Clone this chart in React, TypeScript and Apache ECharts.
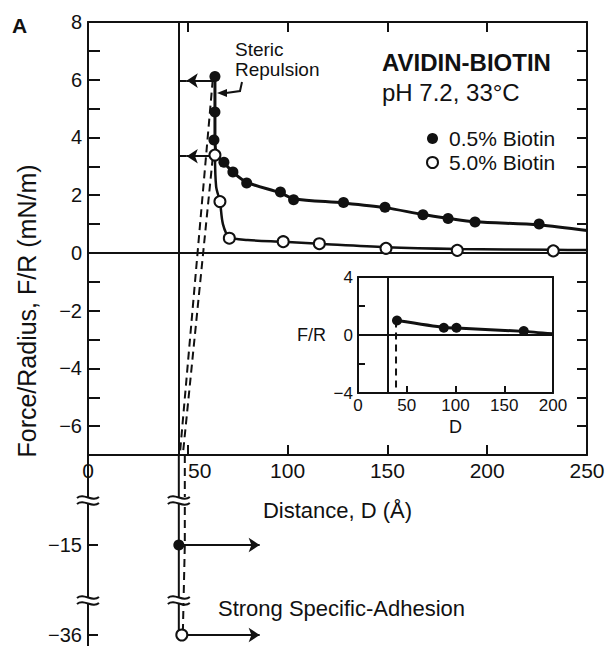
import React, { useEffect, useRef } from 'react';
import * as echarts from 'echarts';

const FONT = '"Liberation Sans", Arial, Helvetica, sans-serif';
const INK = '#111111';

// ---- 0.5% Biotin (filled circles): measured points ----
const lowBiotinD = [63.6, 63.6, 63.1, 68.1, 72.6, 79.5, 96.4, 103, 128, 148.8, 167.8, 180.4, 193.9, 226];
const lowBiotinF = [6.11, 4.88, 3.91, 3.14, 2.8, 2.42, 2.11, 1.84, 1.75, 1.58, 1.32, 1.19, 1.07, 1.0];
// drawn curve through them
const lowFitD = [63.6, 63.6, 64.4, 66.2, 68.1, 72.6, 79.5, 96.4, 103, 128, 148.8, 167.8, 180.4, 193.9, 226, 250];
const lowFitF = [6.11, 3.9, 3.42, 3.24, 3.12, 2.8, 2.45, 2.08, 1.88, 1.73, 1.57, 1.33, 1.2, 1.08, 0.97, 0.78];

// ---- 5.0% Biotin (open circles) ----
const highBiotinD = [63.6, 66.1, 70.8, 97.8, 115.9, 149.3, 185, 233.1];
const highBiotinF = [3.39, 1.78, 0.51, 0.39, 0.32, 0.16, 0.09, 0.07];
const highFitD = [63.6, 64.2, 66.1, 67.6, 70.8, 80, 97.8, 115.9, 149.3, 185, 233.1, 250];
const highFitF = [3.39, 2.3, 1.78, 1.0, 0.55, 0.45, 0.39, 0.32, 0.2, 0.14, 0.11, 0.1];

// ---- jump-out (dashed) paths ----
const jumpLowD = [62.5, 46];
const jumpLowF = [6.0, -7];
const jumpHighD = [62.5, 47.5];
const jumpHighF = [3.3, -7];

// ---- hard wall and "steric repulsion" arrows ----
const wallD = 45.5;
const arrowFromD = 63.6;
const arrowTipD = 49.5;
const arrowF = [5.97, 3.35];

// ---- broken lower axis: strong specific adhesion ----
const lowerCats = ['top', 'gap1', '-15', 'gap2', '-36'];
const adhesionD = [45.5, 47];
const adhesionF = ['-15', '-36'];
const adhesionArrowEndD = 86;
const adhesionDashD = [48.5, 48.5, 47.5];
const adhesionDashF = ['top', '-15', '-36'];

// ---- inset ----
const insetD = [40, 88, 101, 170];
const insetF = [1.0, 0.5, 0.5, 0.27];
const insetFitD = [40, 88, 101, 170, 200];
const insetFitF = [1.0, 0.52, 0.48, 0.25, 0.08];
const insetWallD = 30;
const insetJumpD = [39, 39];
const insetJumpF = [1.0, -4];

const zip = (a: any[], b: any[]) => a.map((v, i) => [v, b[i]]);
const minus = (s: any) => String(s).replace('-', '\u2212');
const catIdx = (c: string) => lowerCats.indexOf(c);

const line2 = { color: INK, width: 2 };
const filledStyle = { color: INK, opacity: 1 };
const openStyle = { color: '#ffffff', borderColor: INK, borderWidth: 2, opacity: 1 };

export default function App() {
  const ref = useRef<HTMLDivElement>(null);

  useEffect(() => {
    if (!ref.current) return;
    const chart = echarts.init(ref.current, undefined, { renderer: 'svg' });

    const isLowerLabel = (_i: number, v: string) => v === '-15' || v === '-36';

    const option: any = {
      animation: false,
      backgroundColor: '#ffffff',
      textStyle: { fontFamily: FONT, color: INK },
      grid: [
        { left: 88, top: 22, width: 499, height: 433 },
        { left: 88, top: 455, width: 499, height: 180 },
        { left: 358, top: 277, width: 195, height: 116 },
      ],
      legend: {
        data: ['0.5% Biotin', '5.0% Biotin'],
        orient: 'vertical',
        left: 421,
        top: 123,
        itemWidth: 11,
        itemHeight: 11,
        itemGap: 3,
        selectedMode: false,
        textStyle: { fontSize: 21, fontFamily: FONT, color: INK, padding: [0, 0, 0, 6] },
      },
      xAxis: [
        {
          gridIndex: 0, type: 'value', min: 0, max: 250, interval: 50, position: 'bottom',
          axisLine: { onZero: false, lineStyle: line2 },
          axisTick: { inside: true, length: 10, lineStyle: line2 },
          axisLabel: {
            color: INK, fontSize: 21, fontFamily: FONT, margin: 5,
            formatter: (v: number) => (v === 50 ? '{s|50}' : String(v)),
            rich: { s: { fontSize: 21, fontFamily: FONT, color: INK, padding: [0, 0, 0, 24] } },
          },
          splitLine: { show: false },
          name: 'Distance, D (Å)', nameLocation: 'middle', nameGap: 44,
          nameTextStyle: { fontSize: 22, fontFamily: FONT, color: INK },
        },
        {
          gridIndex: 0, type: 'value', min: 0, max: 250, interval: 50, position: 'top',
          axisLine: { onZero: false, lineStyle: line2 },
          axisTick: { inside: true, length: 10, lineStyle: line2 },
          axisLabel: { show: false },
          splitLine: { show: false },
        },
        { gridIndex: 1, type: 'value', min: 0, max: 250, show: false },
        {
          gridIndex: 2, type: 'value', min: 0, max: 200, interval: 50, position: 'bottom',
          axisLine: { onZero: false, lineStyle: line2 },
          axisTick: { inside: true, length: 7, lineStyle: line2 },
          axisLabel: { color: INK, fontSize: 17, fontFamily: FONT, margin: 4 },
          splitLine: { show: false },
          name: 'D', nameLocation: 'middle', nameGap: 25,
          nameTextStyle: { fontSize: 18, fontFamily: FONT, color: INK },
        },
        {
          gridIndex: 2, type: 'value', min: 0, max: 200, position: 'top',
          axisLine: { onZero: false, lineStyle: line2 },
          axisTick: { show: false }, axisLabel: { show: false }, splitLine: { show: false },
        },
      ],
      yAxis: [
        {
          gridIndex: 0, type: 'value', min: -7, max: 8, interval: 1, position: 'left',
          axisLine: { onZero: false, lineStyle: line2 },
          axisTick: { inside: true, length: 12, lineStyle: line2 },
          axisLabel: {
            color: INK, fontSize: 20, fontFamily: FONT, margin: 6,
            formatter: (v: number) => (v % 2 === 0 ? minus(v) : ''),
          },
          splitLine: { show: false },
        },
        {
          gridIndex: 0, type: 'value', min: -7, max: 8, interval: 1, position: 'right',
          axisLine: { onZero: false, lineStyle: line2 },
          axisTick: { inside: true, length: 10, lineStyle: line2 },
          axisLabel: { show: false },
          splitLine: { show: false },
        },
        {
          gridIndex: 1, type: 'category', data: lowerCats, inverse: true, boundaryGap: false,
          position: 'left',
          axisLine: { onZero: false, lineStyle: line2 },
          axisTick: { show: true, inside: true, length: 10, interval: isLowerLabel, lineStyle: line2 },
          axisLabel: {
            interval: isLowerLabel, color: INK, fontSize: 20, fontFamily: FONT, margin: 6,
            formatter: (v: string) => minus(v),
          },
          splitLine: { show: false },
        },
        {
          gridIndex: 2, type: 'value', min: -4, max: 4, interval: 2, position: 'left',
          axisLine: { onZero: false, lineStyle: line2 },
          axisTick: { inside: true, length: 7, lineStyle: line2 },
          axisLabel: {
            color: INK, fontSize: 17, fontFamily: FONT, margin: 5,
            formatter: (v: number) => (v % 4 === 0 ? minus(v) : ''),
          },
          splitLine: { show: false },
        },
        {
          gridIndex: 2, type: 'value', min: -4, max: 4, position: 'right',
          axisLine: { onZero: false, lineStyle: line2 },
          axisTick: { show: false }, axisLabel: { show: false }, splitLine: { show: false },
        },
      ],
      series: [
        // zero line, wall, arrows (main)
        {
          type: 'line', xAxisIndex: 0, yAxisIndex: 0, data: [], silent: true,
          markLine: {
            silent: true, symbol: ['none', 'none'], label: { show: false },
            lineStyle: { color: INK, width: 2, type: 'solid' },
            data: [
              { yAxis: 0 },
              { xAxis: wallD },
              ...arrowF.map((f) => [{ coord: [arrowTipD, f] }, { coord: [wallD, f] }]),
            ],
          },
        },
        {
          type: 'line', xAxisIndex: 0, yAxisIndex: 0, data: [], silent: true,
          markLine: {
            silent: true, symbol: ['none', 'arrow'], symbolSize: 11, label: { show: false },
            lineStyle: { color: INK, width: 2, type: 'solid' },
            data: arrowF.map((f) => [{ coord: [arrowFromD, f] }, { coord: [arrowTipD, f] }]),
          },
        },
        {
          name: 'jumpLow', type: 'line', xAxisIndex: 0, yAxisIndex: 0, silent: true,
          data: zip(jumpLowD, jumpLowF), symbol: 'none',
          lineStyle: { color: INK, width: 2, type: [8, 5] },
        },
        {
          name: 'jumpHigh', type: 'line', xAxisIndex: 0, yAxisIndex: 0, silent: true,
          data: zip(jumpHighD, jumpHighF), symbol: 'none',
          lineStyle: { color: INK, width: 2, type: [8, 5] },
        },
        {
          name: 'lowFit', type: 'line', xAxisIndex: 0, yAxisIndex: 0, silent: true,
          data: zip(lowFitD, lowFitF), symbol: 'none', smooth: 0.3,
          lineStyle: { color: INK, width: 3 },
        },
        {
          name: 'highFit', type: 'line', xAxisIndex: 0, yAxisIndex: 0, silent: true,
          data: zip(highFitD, highFitF), symbol: 'none', smooth: 0.3,
          lineStyle: { color: INK, width: 2.5 },
        },
        {
          name: '0.5% Biotin', type: 'scatter', xAxisIndex: 0, yAxisIndex: 0, silent: true,
          data: zip(lowBiotinD, lowBiotinF), symbol: 'circle', symbolSize: 11,
          itemStyle: filledStyle,
          z: 5,
        },
        {
          name: '5.0% Biotin', type: 'scatter', xAxisIndex: 0, yAxisIndex: 0, silent: true,
          data: zip(highBiotinD, highBiotinF), symbol: 'circle', symbolSize: 11,
          itemStyle: openStyle,
          z: 5,
        },
        // lower (broken) part
        {
          type: 'line', xAxisIndex: 2, yAxisIndex: 2, silent: true, symbol: 'none',
          data: [[wallD, catIdx('top')], [wallD, catIdx('-36')]],
          lineStyle: { color: INK, width: 2 },
        },
        {
          type: 'line', xAxisIndex: 2, yAxisIndex: 2, silent: true, symbol: 'none',
          data: adhesionDashD.map((d, i) => [d, catIdx(adhesionDashF[i])]),
          lineStyle: { color: INK, width: 2, type: [8, 5] },
        },
        {
          type: 'line', xAxisIndex: 2, yAxisIndex: 2, data: [], silent: true,
          markLine: {
            silent: true, symbol: ['none', 'arrow'], symbolSize: 11, label: { show: false },
            lineStyle: { color: INK, width: 2, type: 'solid' },
            data: adhesionD.map((d, i) => [
              { coord: [d, catIdx(adhesionF[i])] },
              { coord: [adhesionArrowEndD, catIdx(adhesionF[i])] },
            ]),
          },
        },
        {
          type: 'scatter', xAxisIndex: 2, yAxisIndex: 2, silent: true, symbolSize: 11,
          data: [[adhesionD[0], catIdx(adhesionF[0])]],
          itemStyle: filledStyle, z: 5,
        },
        {
          type: 'scatter', xAxisIndex: 2, yAxisIndex: 2, silent: true, symbolSize: 11,
          data: [[adhesionD[1], catIdx(adhesionF[1])]],
          itemStyle: openStyle, z: 5,
        },
        // inset
        {
          type: 'line', xAxisIndex: 3, yAxisIndex: 3, data: [], silent: true,
          markLine: {
            silent: true, symbol: ['none', 'none'], label: { show: false },
            lineStyle: { color: INK, width: 2, type: 'solid' },
            data: [{ yAxis: 0 }, { xAxis: insetWallD }],
          },
        },
        {
          type: 'line', xAxisIndex: 3, yAxisIndex: 3, silent: true, symbol: 'none',
          data: zip(insetJumpD, insetJumpF),
          lineStyle: { color: INK, width: 2, type: [7, 5] },
        },
        {
          type: 'line', xAxisIndex: 3, yAxisIndex: 3, silent: true, symbol: 'none', smooth: 0.2,
          data: zip(insetFitD, insetFitF),
          lineStyle: { color: INK, width: 3 },
        },
        {
          type: 'scatter', xAxisIndex: 3, yAxisIndex: 3, silent: true, symbolSize: 10,
          data: zip(insetD, insetF), itemStyle: filledStyle, z: 5,
        },
      ],
    };

    chart.setOption(option);

    // decorations: axis breaks and annotations
    const wallPx = chart.convertToPixel({ xAxisIndex: 2 }, wallD) as number;
    const axisPx = 88;
    const breakMark = (x: number, y: number) => ({
      type: 'group',
      children: [
        { type: 'rect', shape: { x: x - 12, y: y - 3, width: 24, height: 6 }, style: { fill: '#ffffff' }, z: 50 },
        {
          type: 'bezierCurve',
          shape: { x1: x - 11, y1: y - 2, cpx1: x - 4, cpy1: y - 8, cpx2: x + 4, cpy2: y + 3, x2: x + 11, y2: y - 3 },
          style: { stroke: INK, lineWidth: 2, fill: 'none' }, z: 51,
        },
        {
          type: 'bezierCurve',
          shape: { x1: x - 11, y1: y + 4, cpx1: x - 4, cpy1: y - 2, cpx2: x + 4, cpy2: y + 9, x2: x + 11, y2: y + 3 },
          style: { stroke: INK, lineWidth: 2, fill: 'none' }, z: 51,
        },
      ],
    });
    const txt = (text: string, x: number, y: number, fontSize: number, extra: any = {}) => ({
      type: 'text', x, y, z: 60,
      style: {
        text, fontSize, fontFamily: FONT, fill: INK, align: 'left', verticalAlign: 'middle',
        ...extra,
      },
    });

    chart.setOption({
      graphic: [
        {
          type: 'line', z: 40,
          shape: { x1: axisPx, y1: 634, x2: axisPx, y2: 646 },
          style: { stroke: INK, lineWidth: 2 },
        },
        breakMark(axisPx, 500),
        breakMark(axisPx, 600),
        breakMark(wallPx, 500),
        breakMark(wallPx, 600),
        txt('A', 12, 25, 21, { fontWeight: 'bold' }),
        txt('Steric', 235, 49, 19),
        txt('Repulsion', 235, 69, 19),
        txt('AVIDIN-BIOTIN', 382, 62, 24, { fontWeight: 'bold' }),
        txt('pH 7.2, 33\u00B0C', 382, 92, 24),
        txt('Strong Specific-Adhesion', 218, 608, 22),
        txt('F/R', 297, 335, 18),
        {
          type: 'text', x: 27, y: 311, rotation: Math.PI / 2, z: 60,
          style: {
            text: 'Force/Radius, F/R (mN/m)', fontSize: 25, fontFamily: FONT, fill: INK,
            align: 'center', verticalAlign: 'middle',
          },
        },
        {
          type: 'polyline', z: 60,
          shape: { points: [[242, 82], [240, 91], [226, 93]] },
          style: { stroke: INK, lineWidth: 2, fill: 'none' },
        },
        {
          type: 'polygon', z: 60,
          shape: { points: [[217, 93], [227, 89], [227, 97]] },
          style: { fill: INK },
        },
      ],
    });

    return () => chart.dispose();
  }, []);

  return (
    <div
      ref={ref}
      style={{ position: 'fixed', left: 0, top: 0, width: 609, height: 646, background: '#fff' }}
    />
  );
}
